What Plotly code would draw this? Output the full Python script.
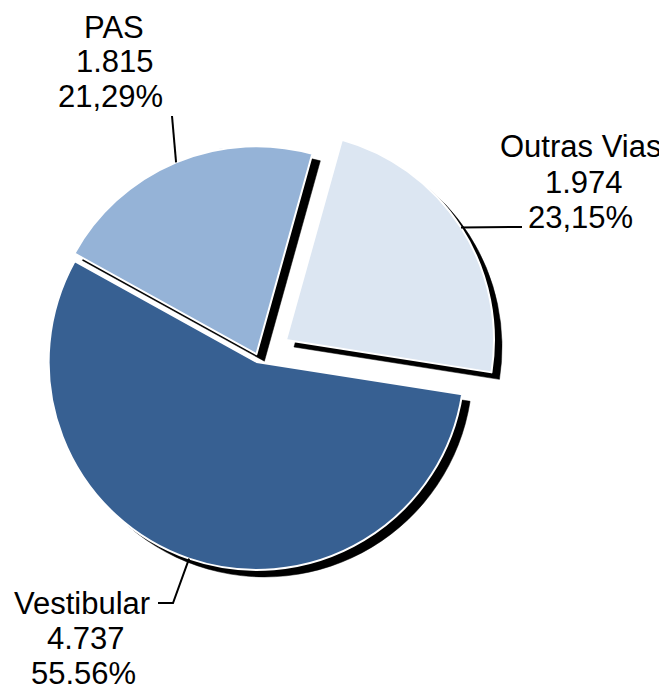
import math
import plotly.graph_objects as go

# ---- data ----
categories = ["Outras Vias", "Vestibular", "PAS"]
values = [1974, 4737, 1815]
value_labels = ["1.974", "4.737", "1.815"]
percent_labels = ["23,15%", "55.56%", "21,29%"]
colors = ["#DCE6F2", "#376092", "#95B3D7"]
pulls = [0.16, 0.02, 0.02]

# ---- layout constants (screen pixels) ----
W, H = 667, 686
OX, OY = 8, 8              # page body margin offset of the plot div
CX, CY = 258, 358          # pie centre (top-down screen pixels)
R = 208                    # pie radius
ROT = 15.6                 # start angle, clockwise from 12 o'clock
SHX, SHY = 8, 7            # shadow offset
FONT = dict(family="Liberation Sans, Arial, sans-serif", size=31, color="black")

half = R * (1 + max(pulls))


def px(x):
    return (x - OX) / W


def py(y):
    return 1 - (y - OY) / H


def domain(cx, cy):
    return dict(x=[px(cx - half), px(cx + half)],
                y=[py(cy + half), py(cy - half)])


fig = go.Figure()
# drop shadow
fig.add_trace(go.Pie(
    labels=categories, values=values, sort=False, direction="clockwise",
    rotation=ROT, pull=pulls, domain=domain(CX + SHX, CY + SHY),
    marker=dict(colors=["black"] * 3, line=dict(color="rgba(0,0,0,0.5)", width=1)),
    textinfo="none", hoverinfo="skip", showlegend=False))
# main pie
fig.add_trace(go.Pie(
    labels=categories, values=values, sort=False, direction="clockwise",
    rotation=ROT, pull=pulls, domain=domain(CX, CY),
    marker=dict(colors=colors, line=dict(color="white", width=2)),
    textinfo="none", showlegend=False))

# ---- labels: one annotation per line (centre x, middle y in screen px) ----
label_lines = {
    "Outras Vias": [(580, 147), (584, 182), (580, 217)],
    "Vestibular": [(82, 603), (86, 638), (83, 673)],
    "PAS": [(114, 27), (114.5, 62), (110.5, 97)],
}
# leader-line label ends (screen px): elbow then end
leader_ends = {
    "Outras Vias": [(513, 227), (522, 227)],
    "Vestibular": [(173, 603), (158, 603)],
    "PAS": [(172, 116)],
}

total = sum(values)
start = ROT
annotations = []
shapes = []
for cat, v, vl, pl, p in zip(categories, values, value_labels, percent_labels, pulls):
    sweep = 360.0 * v / total
    mid = math.radians(start + sweep / 2)
    start += sweep
    dx, dy = math.sin(mid), -math.cos(mid)
    ex = CX + (p * R + R) * dx
    ey = CY + (p * R + R) * dy
    pts = [(ex, ey)] + leader_ends[cat]
    path = "M " + " L ".join(f"{px(x):.5f},{py(y):.5f}" for x, y in pts)
    shapes.append(dict(type="path", path=path, xref="paper", yref="paper",
                       line=dict(color="black", width=2)))
    for text, (x, y) in zip([cat, vl, pl], label_lines[cat]):
        annotations.append(dict(text=text, x=px(x), y=py(y), xref="paper",
                                yref="paper", xanchor="center", yanchor="middle",
                                showarrow=False, font=FONT))

fig.update_layout(width=W, height=H, margin=dict(l=0, r=0, t=0, b=0),
                  paper_bgcolor="white", plot_bgcolor="white",
                  annotations=annotations, shapes=shapes, showlegend=False)
fig.write_html("out.html")
